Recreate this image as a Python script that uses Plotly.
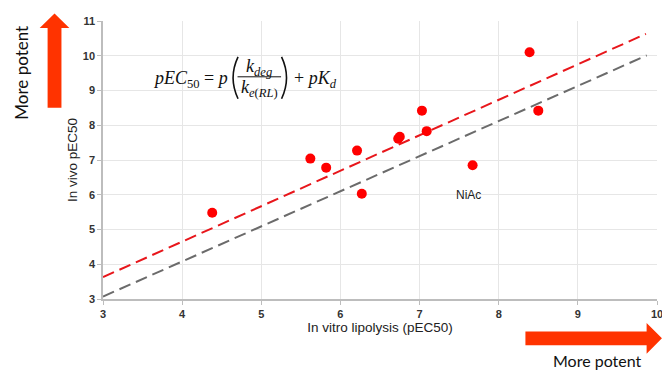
import plotly.graph_objects as go

# ---- data ----
vitro_pec50 = [4.38, 5.62, 5.82, 6.21, 6.27, 6.73, 6.75, 7.03, 7.09, 7.67, 8.39, 8.50]
vivo_pec50 = [5.48, 7.04, 6.78, 7.27, 6.03, 7.61, 7.67, 8.42, 7.83, 6.85, 10.10, 8.42]

fit_x = [3.0, 9.86]
fit_y = [3.63, 10.63]
unity_x = [3.0, 9.87]
unity_y = [3.07, 10.01]

x_ticks = [3, 4, 5, 6, 7, 8, 9, 10]
y_ticks = [3, 4, 5, 6, 7, 8, 9, 10, 11]

# ---- layout geometry (pixels) ----
OFF = 8  # page body margin
W, H = 662, 362
L, T = 103 - OFF, 20 - OFF
R = W - (663 - OFF)
B = H - (299 - OFF)
PW, PH = W - L - R, H - T - B


def px(x):
    """reference-picture x pixel -> paper coordinate"""
    return (x - OFF - L) / PW


def py(y):
    """reference-picture y pixel -> paper coordinate"""
    return (H - B - (y - OFF)) / PH


fig = go.Figure()

fig.add_trace(go.Scatter(x=unity_x, y=unity_y, mode="lines",
                         line=dict(color="#6b6b6b", width=2, dash="12px,6px"),
                         hoverinfo="skip", showlegend=False))
fig.add_trace(go.Scatter(x=fit_x, y=fit_y, mode="lines",
                         line=dict(color="#e8161b", width=2, dash="12px,6px"),
                         hoverinfo="skip", showlegend=False))
fig.add_trace(go.Scatter(x=vitro_pec50, y=vivo_pec50, mode="markers",
                         marker=dict(color="#ff0000", size=10),
                         showlegend=False))

annotations = []
shapes = []

# NiAc label
annotations.append(dict(x=7.62, y=5.98, xref="x", yref="y", text="NiAc", showarrow=False,
                        font=dict(family="Liberation Sans, Arial", size=12, color="#222")))

# equation
eq_font = dict(family="Liberation Serif, Times New Roman, serif", size=18, color="#111")
annotations.append(dict(x=px(231), y=py(79), xref="paper", yref="paper", xanchor="right", yanchor="middle",
                        text="<i>pEC</i><sub>50</sub> = <i>p</i>", showarrow=False, font=eq_font))
annotations.append(dict(x=px(261), y=py(67), xref="paper", yref="paper", xanchor="center", yanchor="middle",
                        text="<i>k</i><sub><i>deg</i></sub>", showarrow=False, font=eq_font))
annotations.append(dict(x=px(261), y=py(88), xref="paper", yref="paper", xanchor="center", yanchor="middle",
                        text="<i>k</i><sub><i>e</i>(<i>RL</i>)</sub>", showarrow=False, font=eq_font))
annotations.append(dict(x=px(294), y=py(79), xref="paper", yref="paper", xanchor="left", yanchor="middle",
                        text="+ <i>pK</i><sub><i>d</i></sub>", showarrow=False, font=eq_font))
shapes.append(dict(type="line", xref="paper", yref="paper", x0=px(239), x1=px(283), y0=py(76), y1=py(76),
                   line=dict(color="#111", width=1)))
# big parentheses
for (xa, xc) in ((239.5, 229.5), (283.5, 293.5)):
    path = (f"M {px(xa):.5f},{py(56):.5f} Q {px(xc):.5f},{py(77):.5f} {px(xa):.5f},{py(98):.5f}")
    shapes.append(dict(type="path", xref="paper", yref="paper", path=path,
                       line=dict(color="#111", width=1.6)))

# arrows
arrow_col = "#ff3300"
up = [(47, 107), (47, 27), (39, 27), (54, 12.5), (69, 27), (61, 27), (61, 107)]
right = [(530, 331.5), (652.5, 331.5), (652.5, 323), (668, 338.5), (652.5, 354), (652.5, 345.5), (530, 345.5)]
for pts in (up, right):
    path = "M " + " L ".join(f"{px(a):.5f},{py(b):.5f}" for a, b in pts) + " Z"
    shapes.append(dict(type="path", xref="paper", yref="paper", path=path,
                       fillcolor=arrow_col, line=dict(width=0)))

annotations.append(dict(x=px(21), y=py(72), xref="paper", yref="paper", text="More potent", textangle=-90,
                        showarrow=False, xanchor="center", yanchor="middle",
                        font=dict(family="Lato, Carlito, Calibri, sans-serif", size=17, color="#111")))
annotations.append(dict(x=px(603), y=py(361), xref="paper", yref="paper", text="More potent",
                        showarrow=False, xanchor="center", yanchor="middle",
                        font=dict(family="Lato, Carlito, Calibri, sans-serif", size=16, color="#111")))

axis_common = dict(showgrid=True, gridcolor="#e6e6e6", gridwidth=1, zeroline=False,
                   showline=True, linecolor="#bdbdbd", linewidth=1.5,
                   ticks="outside", ticklen=4, tickcolor="#bdbdbd",
                   tickfont=dict(family="Liberation Sans, Arial", size=11, color="#333", weight="bold"))
title_font = dict(family="Liberation Sans, Arial", size=13.5, color="#222")

fig.update_layout(
    width=W, height=H,
    margin=dict(l=L, r=R, t=T, b=B),
    paper_bgcolor="white", plot_bgcolor="white",
    xaxis=dict(range=[3, 10], tickvals=x_ticks, **axis_common,
               title=dict(text="In vitro lipolysis (pEC50)", standoff=1, font=title_font)),
    yaxis=dict(range=[3, 11], tickvals=y_ticks, **axis_common,
               title=dict(text="In vivo pEC50", standoff=2, font=title_font)),
    annotations=annotations,
    shapes=shapes,
)

fig.write_html("out.html")
